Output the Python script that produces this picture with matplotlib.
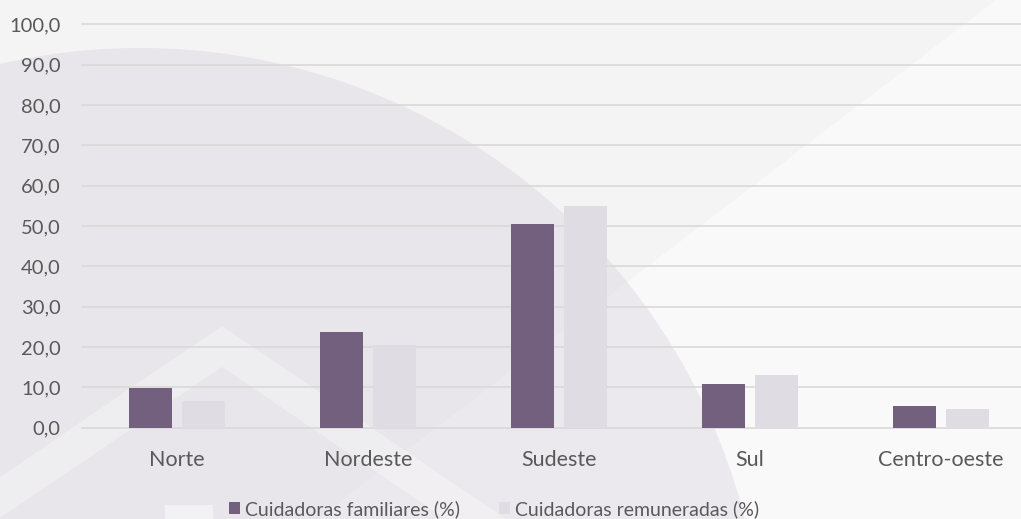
import matplotlib
matplotlib.use("Agg")
import matplotlib.pyplot as plt
import numpy as np
from matplotlib.patches import Circle, Polygon, Rectangle

categories = ["Norte", "Nordeste", "Sudeste", "Sul", "Centro-oeste"]
familiares = [9.8, 23.8, 50.4, 10.8, 5.4]
remuneradas = [6.6, 20.5, 55.0, 13.1, 4.7]
series_names = ["Cuidadoras familiares (%)", "Cuidadoras remuneradas (%)"]
yticks = [0, 10, 20, 30, 40, 50, 60, 70, 80, 90, 100]
ytick_labels = [f"{v:.1f}".replace(".", ",") for v in yticks]

plt.rcParams['font.family'] = ['Lato', 'DejaVu Sans']

W, H = 1021, 519
fig = plt.figure(figsize=(W / 100, H / 100), dpi=100)
fig.patch.set_facecolor("#F4F4F4")

# decorative background (pixel coordinates)
bg = fig.add_axes([0, 0, 1, 1], zorder=0)
bg.set_xlim(0, W)
bg.set_ylim(H, 0)
bg.axis("off")
diag = [(1009, -10), (1200, -10), (1200, 600), (211, 600)]
bg.add_patch(Polygon(diag, closed=True, facecolor="#F8F8F8", edgecolor="none"))
bg.add_patch(Circle((140, 672), 624, facecolor="#E8E6EA", edgecolor="none"))
bg.add_patch(Polygon(diag, closed=True, facecolor="white", alpha=0.15, edgecolor="none"))
# chevron band lower left
s = 0.68
oa, ia, ax0 = 326, 367, 222
bg.add_patch(Polygon([(ax0, oa), (ax0 - 400, oa + 400 * s), (ax0 - 400, ia + 400 * s),
                      (ax0, ia), (ax0 + 400, ia + 400 * s), (ax0 + 400, oa + 400 * s)],
                     closed=True, facecolor="white", alpha=0.3, edgecolor="none"))
bg.add_patch(Rectangle((165, 505), 48, 20, facecolor="white", alpha=0.45, edgecolor="none"))

# main axes
left = 81.5 / W
width = 955 / W
bottom = (H - 427.7) / H
height = 403.4 / H
ax = fig.add_axes([left, bottom, width, height], zorder=1)
ax.set_facecolor("none")

x = np.arange(len(categories))
bw = 0.225
off = 0.141
ax.bar(x - off, familiares, bw, color="#72607E", label=series_names[0], zorder=3)
ax.bar(x + off, remuneradas, bw, color="#E0DCE3", label=series_names[1], zorder=3)

ax.set_xlim(-0.5, len(categories) - 0.5)
ax.set_ylim(0, 100)
ax.set_yticks(yticks)
ax.set_yticklabels(ytick_labels)
ax.set_xticks(x)
ax.set_xticklabels(categories)
for v in yticks:
    ax.axhline(v, color="#D9D9D9", lw=1.2, zorder=1, clip_on=False)
for sp in ax.spines.values():
    sp.set_visible(False)
ax.tick_params(axis="both", length=0, colors="#595959")
ax.tick_params(axis="y", pad=15, labelsize=14.5)
ax.tick_params(axis="x", pad=16, labelsize=15.5)

leg = fig.legend(loc="center", bbox_to_anchor=(494 / W, 1 - 509 / H), ncol=2,
                 frameon=False, fontsize=14, handlelength=0.56, handleheight=0.56,
                 handletextpad=0.25, columnspacing=2.05, labelcolor="#595959")

fig.savefig("out.png", dpi=100, facecolor=fig.get_facecolor())
